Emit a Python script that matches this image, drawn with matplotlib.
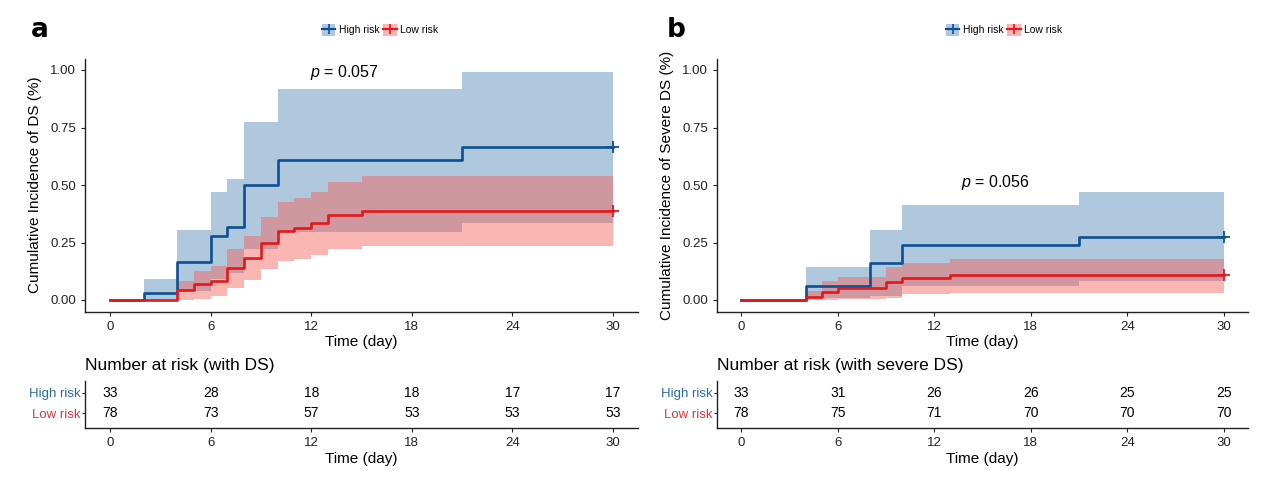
import matplotlib
matplotlib.use("Agg")
import matplotlib.pyplot as plt
from matplotlib.patches import Patch
from matplotlib.lines import Line2D

plt.rcParams['font.family'] = ['Liberation Sans', 'DejaVu Sans']
plt.rcParams['mathtext.fontset'] = 'custom'
plt.rcParams['mathtext.it'] = 'Liberation Sans:italic'
plt.rcParams['mathtext.rm'] = 'Liberation Sans'

# ---------------- data ----------------
groups = ["High risk", "Low risk"]
time_ticks = [0, 6, 12, 18, 24, 30]

# Panel a: cumulative incidence of DS
a_high_t = [0, 2, 4, 6, 7, 8, 10, 21, 30]
a_high_est = [0, 0.030, 0.166, 0.277, 0.319, 0.501, 0.607, 0.665, 0.665]
a_high_up = [0, 0.090, 0.306, 0.470, 0.526, 0.776, 0.916, 0.993, 0.993]
a_high_lo = [0, 0.000, 0.040, 0.090, 0.118, 0.220, 0.295, 0.335, 0.335]

a_low_t = [0, 4, 5, 6, 7, 8, 9, 10, 11, 12, 13, 15, 30]
a_low_est = [0, 0.042, 0.068, 0.082, 0.139, 0.182, 0.249, 0.299, 0.314, 0.335, 0.371, 0.386, 0.386]
a_low_up = [0, 0.082, 0.126, 0.147, 0.222, 0.277, 0.361, 0.426, 0.444, 0.468, 0.514, 0.538, 0.538]
a_low_lo = [0, 0.000, 0.006, 0.017, 0.053, 0.085, 0.133, 0.168, 0.179, 0.194, 0.222, 0.234, 0.234]

a_risk_high = [33, 28, 18, 18, 17, 17]
a_risk_low = [78, 73, 57, 53, 53, 53]
a_pval = "0.057"

# Panel b: cumulative incidence of severe DS
b_high_t = [0, 4, 8, 10, 21, 30]
b_high_est = [0, 0.061, 0.162, 0.237, 0.276, 0.276]
b_high_up = [0, 0.145, 0.305, 0.413, 0.468, 0.468]
b_high_lo = [0, 0.010, 0.017, 0.060, 0.082, 0.082]

b_low_t = [0, 4, 5, 6, 9, 10, 13, 30]
b_low_est = [0, 0.014, 0.035, 0.052, 0.079, 0.094, 0.107, 0.107]
b_low_up = [0, 0.040, 0.082, 0.100, 0.143, 0.160, 0.180, 0.180]
b_low_lo = [0, 0.000, 0.000, 0.003, 0.010, 0.025, 0.032, 0.032]

b_risk_high = [33, 31, 26, 26, 25, 25]
b_risk_low = [78, 75, 71, 70, 70, 70]
b_pval = "0.056"

# ---------------- style ----------------
BLUE = "#0d4f92"
RED = "#e3181b"
BLUE_FILL = "#b0c8de"
RED_FILL = "#f65d54"
BLUE_TXT = "#2f6aa3"
RED_TXT = "#d9383a"

W, H = 1274, 493
fig = plt.figure(figsize=(W / 100, H / 100), dpi=100)


def rect(l, r, t, b):
    return [l / W, 1 - b / H, (r - l) / W, (b - t) / H]


def style_axes(ax):
    for s in ["top", "right"]:
        ax.spines[s].set_visible(False)
    for s in ["left", "bottom"]:
        ax.spines[s].set_linewidth(1.0)
        ax.spines[s].set_color("#222222")
    ax.tick_params(direction="out", length=3, width=0.8, labelsize=9.5, colors="#222222", labelcolor="#222222")


def main_panel(ax, ht, he, hu, hl, lt, le, lu, ll, ylabel, ptxt, pxy):
    ax.fill_between(ht, hl, hu, step="post", color=BLUE_FILL, lw=0, zorder=1)
    ax.fill_between(lt, ll, lu, step="post", color=RED_FILL, alpha=0.45, lw=0, zorder=2)
    ax.step(ht, he, where="post", color=BLUE, lw=1.9, zorder=3)
    ax.step(lt, le, where="post", color=RED, lw=1.9, zorder=4)
    ax.plot([ht[-1]], [he[-1]], marker="+", color=BLUE, ms=8, mew=1.3, zorder=5)
    ax.plot([lt[-1]], [le[-1]], marker="+", color=RED, ms=8, mew=1.3, zorder=5)
    ax.set_xlim(-1.5, 31.5)
    ax.set_ylim(-0.05, 1.05)
    ax.set_xticks(time_ticks)
    ax.set_yticks([0, 0.25, 0.5, 0.75, 1.0])
    ax.set_yticklabels(["0.00", "0.25", "0.50", "0.75", "1.00"])
    ax.set_xlabel("Time (day)", fontsize=11, labelpad=2)
    ax.set_ylabel(ylabel, fontsize=11, labelpad=6)
    style_axes(ax)
    ax.text(pxy[0], pxy[1], r"$p$ = " + ptxt, fontsize=11.5, ha="center", va="center")


def risk_panel(ax, hvals, lvals, title):
    for x, v in zip(time_ticks, hvals):
        ax.text(x, 1, str(v), ha="center", va="center", fontsize=10)
    for x, v in zip(time_ticks, lvals):
        ax.text(x, 0, str(v), ha="center", va="center", fontsize=10)
    ax.set_xlim(-1.5, 31.5)
    ax.set_ylim(-0.75, 1.6)
    ax.set_xticks(time_ticks)
    ax.set_yticks([1, 0])
    ax.set_yticklabels(groups)
    style_axes(ax)
    ax.tick_params(axis="y", length=2, pad=1)
    for lbl, c in zip(ax.get_yticklabels(), [BLUE_TXT, RED_TXT]):
        lbl.set_color(c)
    ax.set_xlabel("Time (day)", fontsize=11, labelpad=2)
    ax.set_title(title, fontsize=12.5, loc="left", x=0.0, pad=8)


# panel a
ax1 = fig.add_axes(rect(85, 638, 58.5, 311.5))
main_panel(ax1, a_high_t, a_high_est, a_high_up, a_high_lo,
           a_low_t, a_low_est, a_low_up, a_low_lo,
           "Cumulative Incidence of DS (%)", a_pval, (14.0, 0.99))
t1 = fig.add_axes(rect(85, 638, 381, 428))
risk_panel(t1, a_risk_high, a_risk_low, "Number at risk (with DS)")

# panel b
ax2 = fig.add_axes(rect(717, 1248, 58.5, 311.5))
main_panel(ax2, b_high_t, b_high_est, b_high_up, b_high_lo,
           b_low_t, b_low_est, b_low_up, b_low_lo,
           "Cumulative Incidence of Severe DS (%)", b_pval, (15.8, 0.513))
t2 = fig.add_axes(rect(717, 1248, 381, 428))
risk_panel(t2, b_risk_high, b_risk_low, "Number at risk (with severe DS)")

# legends
def legend_handles():
    hh = (Patch(facecolor=BLUE_FILL, edgecolor="none"),
          Line2D([], [], color=BLUE, lw=1.6, marker="+", ms=7, mew=1.2))
    hl = (Patch(facecolor="#fbb6b2", edgecolor="none"),
          Line2D([], [], color=RED, lw=1.6, marker="+", ms=7, mew=1.2))
    return [hh, hl]

for cx in (380, 1004):
    fig.legend(legend_handles(), groups, loc="center", bbox_to_anchor=(cx / W, 1 - 30 / H),
               ncol=2, frameon=False, fontsize=7.5, handlelength=1.3, handleheight=1.3,
               columnspacing=0.4, handletextpad=0.3)

fig.text(40 / W, 1 - 30 / H, "a", fontsize=19, fontweight="bold", ha="center", va="center",
         family=["DejaVu Sans"])
fig.text(676 / W, 1 - 30 / H, "b", fontsize=19, fontweight="bold", ha="center", va="center",
         family=["DejaVu Sans"])

fig.savefig("out.png", dpi=100, facecolor="white")
